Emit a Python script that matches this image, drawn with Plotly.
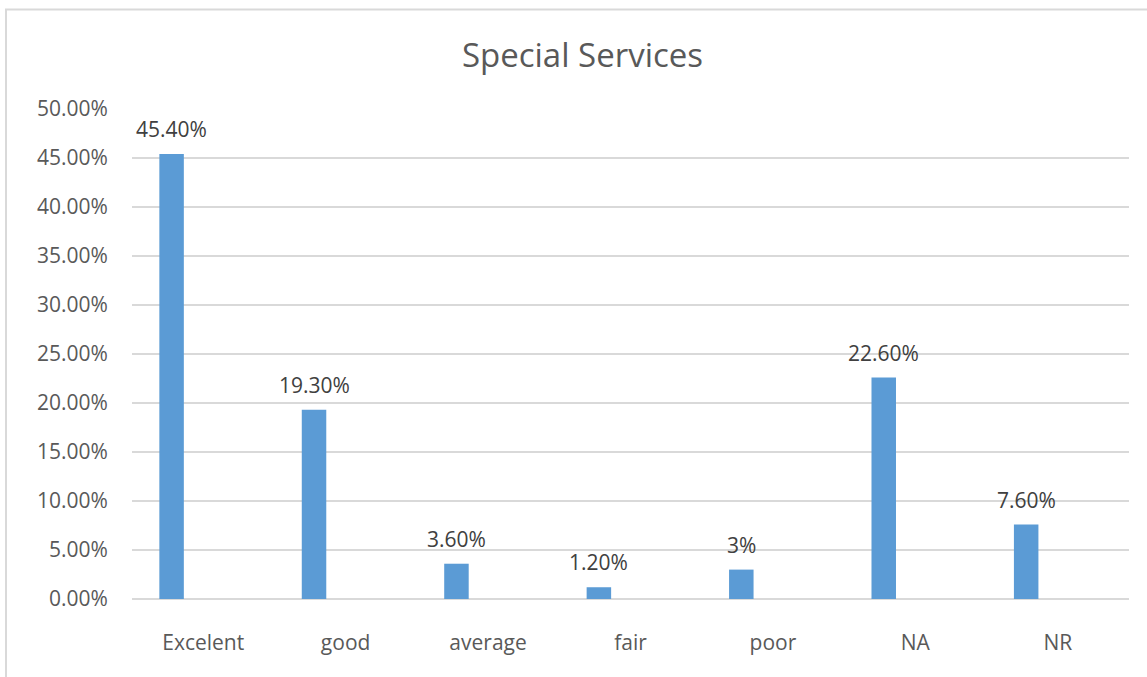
import plotly.graph_objects as go

categories = ["Excelent", "good", "average", "fair", "poor", "NA", "NR"]
values = [0.454, 0.193, 0.036, 0.012, 0.03, 0.226, 0.076]
labels = ["45.40%", "19.30%", "3.60%", "1.20%", "3%", "22.60%", "7.60%"]
y_ticks = [0, 0.05, 0.10, 0.15, 0.20, 0.25, 0.30, 0.35, 0.40, 0.45, 0.50]

positions = list(range(len(categories)))
BAR_OFFSET = -0.308
BAR_WIDTH = 0.172
bar_centers = [p + BAR_OFFSET + BAR_WIDTH / 2 for p in positions]

FONT = "Open Sans"
W, H = 1147, 677
L, R, T, B = 132, 18, 109, 78

fig = go.Figure()
fig.add_trace(go.Bar(
    x=positions, y=values,
    offset=BAR_OFFSET, width=BAR_WIDTH,
    marker=dict(color="#5B9BD5", line=dict(width=0)),
    hoverinfo="skip",
))

annotations = []
for xc, v, t in zip(bar_centers, values, labels):
    annotations.append(dict(
        x=xc, y=v, xref="x", yref="y", text=t, showarrow=False,
        yanchor="middle", xanchor="center", yshift=25,
        font=dict(family=FONT, size=21, color="#404040"),
    ))

fig.update_layout(
    width=W, height=H,
    margin=dict(l=L, r=R, t=T, b=B),
    paper_bgcolor="white", plot_bgcolor="white",
    showlegend=False,
    title=dict(text="Special Services", x=582.5 / W, xref="container", xanchor="center",
               y=1 - 55 / H, yref="container", yanchor="middle",
               font=dict(family=FONT, size=33, color="#595959")),
    annotations=annotations,
    xaxis=dict(
        range=[-0.5, len(categories) - 0.5],
        tickvals=positions, ticktext=categories,
        showgrid=False, zeroline=False, showline=False,
        ticks="outside", ticklen=0, ticklabelstandoff=25,
        tickfont=dict(family=FONT, size=21, color="#595959"),
    ),
    yaxis=dict(
        range=[0, 0.5], tickvals=y_ticks, tickformat=".2%",
        showgrid=True, gridcolor="#D9D9D9", gridwidth=2,
        zeroline=True, zerolinecolor="#D9D9D9", zerolinewidth=2,
        showline=False, ticks="outside", ticklen=0, ticklabelstandoff=19,
        tickfont=dict(family=FONT, size=21, color="#595959"),
    ),
    shapes=[dict(
        type="rect", xref="paper", yref="paper",
        x0=(6 - L) / (W - L - R), x1=1.2,
        y0=-0.5, y1=(H - 9.5 - B) / (H - T - B),
        line=dict(color="#D9D9D9", width=2), fillcolor="rgba(0,0,0,0)", layer="below",
    )],
)

fig.write_html("out.html")
